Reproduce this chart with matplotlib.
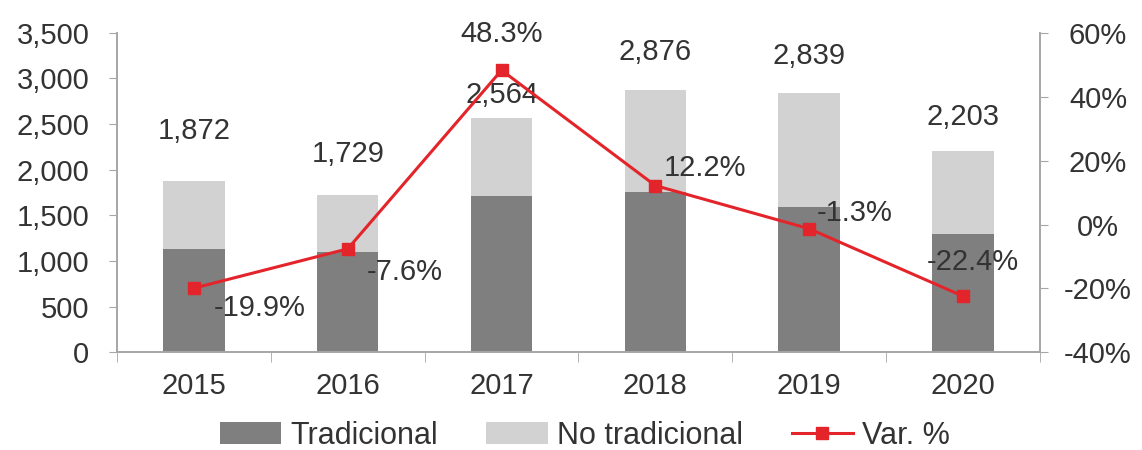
import matplotlib
matplotlib.use("Agg")
import matplotlib.pyplot as plt
from matplotlib.ticker import FuncFormatter
import numpy as np

plt.rcParams['font.family'] = ['Liberation Sans', 'DejaVu Sans']

years = ["2015", "2016", "2017", "2018", "2019", "2020"]
totals = [1872, 1729, 2564, 2876, 2839, 2203]
tradicional = [1130, 1094, 1708, 1755, 1591, 1298]
no_tradicional = [t - a for t, a in zip(totals, tradicional)]
var_pct = [-19.9, -7.6, 48.3, 12.2, -1.3, -22.4]

DARK = "#7f7f7f"
LIGHT = "#d2d2d2"
RED = "#e4242b"
AXC = "#a6a6a6"
TXT = "#333333"
FS = 21

fig = plt.figure(figsize=(11.42, 4.5), dpi=100)
ax = fig.add_axes([0.1025, 0.217, 0.808, 0.71])
x = np.arange(len(years))

ax.bar(x, tradicional, width=0.4, color=DARK, label="Tradicional", zorder=2)
ax.bar(x, no_tradicional, width=0.4, bottom=tradicional, color=LIGHT,
       label="No tradicional", zorder=2)

ax.set_ylim(0, 3500)
ax.set_xlim(-0.5, len(years) - 0.5)
ax.set_yticks(np.arange(0, 3501, 500))
ax.yaxis.set_major_formatter(FuncFormatter(lambda v, p: f"{int(v):,}"))
ax.set_xticks(x)
ax.set_xticklabels(years)
ax.set_xticks(np.arange(-0.5, len(years), 1), minor=True)
ax.tick_params(axis='x', which='major', length=0, pad=14, labelsize=FS, colors=TXT)
ax.tick_params(axis='x', which='minor', length=7, color=AXC, direction='out')
ax.tick_params(axis='y', length=6, color=AXC, labelsize=FS, colors=TXT, pad=14)
for s in ['left', 'bottom', 'right']:
    ax.spines[s].set_color(AXC)
    ax.spines[s].set_linewidth(1.2)
ax.spines['top'].set_visible(False)

# total labels (offsets in points)
tot_off = [36, 29, 16.5, 27, 27, 24.5]
for i, (t, off) in enumerate(zip(totals, tot_off)):
    ax.annotate(f"{t:,}", (x[i], t), xytext=(0, off), textcoords='offset points',
                ha='center', va='center', fontsize=FS, color=TXT, zorder=5)

ax2 = ax.twinx()
ax2.set_ylim(-40, 60)
ax2.set_yticks(np.arange(-40, 61, 20))
ax2.yaxis.set_major_formatter(FuncFormatter(lambda v, p: f"{int(v)}%"))
ax2.tick_params(axis='y', length=6, color=AXC, labelsize=FS, colors=TXT, pad=36)
for lbl in ax2.get_yticklabels():
    lbl.set_horizontalalignment('center')
for s in ['left', 'bottom', 'right']:
    ax2.spines[s].set_color(AXC)
    ax2.spines[s].set_linewidth(1.2)
ax2.spines['top'].set_visible(False)
ax2.plot(x, var_pct, color=RED, lw=2.2, marker='s', ms=9, label="Var. %", zorder=4)

pct_off = [(47, -14), (41, -17), (0, 26), (36, 13), (33, 11), (7, 24.5)]
for i, (v, off) in enumerate(zip(var_pct, pct_off)):
    ax2.annotate(f"{v:.1f}%", (x[i], v), xytext=off, textcoords='offset points',
                 ha='center', va='center', fontsize=FS, color=TXT, zorder=5)

h1, l1 = ax.get_legend_handles_labels()
h2, l2 = ax2.get_legend_handles_labels()
fig.legend(h1 + h2, l1 + l2, loc='center', bbox_to_anchor=(0.512, 0.032),
           ncol=3, frameon=False, fontsize=22, handlelength=2.0, handletextpad=0.3,
           columnspacing=1.6, labelcolor=TXT)

fig.savefig("out.png", dpi=100)
